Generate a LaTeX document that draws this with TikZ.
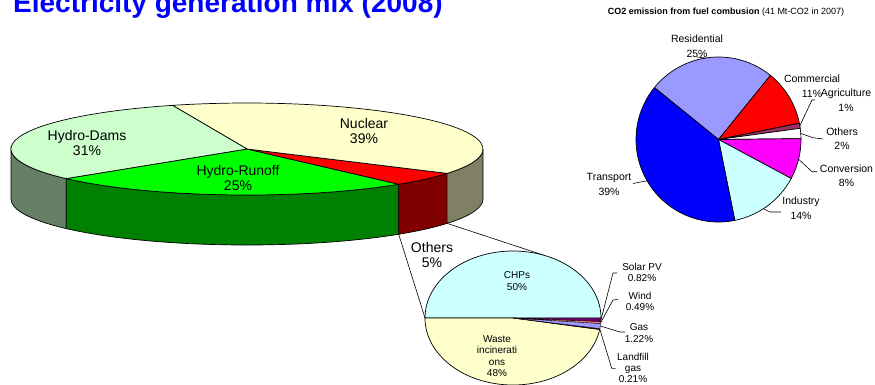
\documentclass[tikz,border=0pt]{standalone}
\usepackage{fontspec}
\setmainfont{Liberation Sans}
\usetikzlibrary{calc}

\definecolor{damtop}{RGB}{204,255,204}
\definecolor{damside}{RGB}{102,128,102}
\definecolor{runtop}{RGB}{0,255,0}
\definecolor{runside}{RGB}{0,128,0}
\definecolor{othtop}{RGB}{255,0,0}
\definecolor{othside}{RGB}{128,0,0}
\definecolor{nuctop}{RGB}{255,255,204}
\definecolor{nucside}{RGB}{128,128,102}
\definecolor{chpfill}{RGB}{204,255,255}
\definecolor{wastefill}{RGB}{255,255,204}
\definecolor{solarfill}{RGB}{102,0,102}
\definecolor{windfill}{RGB}{255,128,128}
\definecolor{gasfill}{RGB}{153,153,255}
\definecolor{landfill}{RGB}{128,0,0}
\definecolor{resfill}{RGB}{153,153,255}
\definecolor{comfill}{RGB}{255,0,0}
\definecolor{agrfill}{RGB}{153,51,102}
\definecolor{convfill}{RGB}{255,0,255}
\definecolor{indfill}{RGB}{204,255,255}
\definecolor{transfill}{RGB}{0,0,255}

\tikzset{
  slice/.style={draw=black, line width=0.7pt},
  thinslice/.style={draw=black, line width=0.35pt},
  lead/.style={draw=black, line width=0.6pt},
  biglabel/.style={align=center, inner sep=0pt, font=\fontsize{14}{15}\selectfont},
  co2label/.style={align=center, inner sep=0pt, font=\fontsize{10.5}{14.5}\selectfont},
  sublabel/.style={align=center, inner sep=0pt, font=\fontsize{10}{11.3}\selectfont}
}

\begin{document}
\begin{tikzpicture}[x=1pt,y=1pt]
  \useasboundingbox (0,0) rectangle (875,-384);

  % titles
  \node[anchor=base west, inner sep=0pt, text=transfill, font=\fontsize{28}{30}\selectfont\bfseries] (title) at (13,-12) {Electricity generation mix (2008)};
  \node[inner sep=0pt, font=\fontsize{9}{10}\selectfont] (co2title) at (726,-12) {\textbf{CO2 emission from fuel combusion} (41 Mt-CO2 in 2007)};

  % 3d pie, sides first
  \coordinate (mix) at (247,-149);
  \filldraw[slice, fill=damside] (mix) ++(180:236 and 46) arc[start angle=180, end angle=220, x radius=236, y radius=46] -- ++(0,-50) arc[start angle=220, end angle=180, x radius=236, y radius=46] -- cycle;
  \filldraw[slice, fill=runside] (mix) ++(220:236 and 46) arc[start angle=220, end angle=310, x radius=236, y radius=46] -- ++(0,-50) arc[start angle=310, end angle=220, x radius=236, y radius=46] -- cycle;
  \filldraw[slice, fill=othside] (mix) ++(310:236 and 46) arc[start angle=310, end angle=328, x radius=236, y radius=46] -- ++(0,-50) arc[start angle=328, end angle=310, x radius=236, y radius=46] -- cycle;
  \filldraw[slice, fill=nucside] (mix) ++(328:236 and 46) arc[start angle=328, end angle=360, x radius=236, y radius=46] -- ++(0,-50) arc[start angle=360, end angle=328, x radius=236, y radius=46] -- cycle;

  % 3d pie, top
  \filldraw[slice, fill=runtop] (mix) -- ++(220:236 and 46) arc[start angle=220, end angle=310, x radius=236, y radius=46] -- cycle;
  \filldraw[slice, fill=othtop] (mix) -- ++(310:236 and 46) arc[start angle=310, end angle=328, x radius=236, y radius=46] -- cycle;
  \filldraw[slice, fill=nuctop] (mix) -- ++(328:236 and 46) arc[start angle=328, end angle=468.4, x radius=236, y radius=46] -- cycle;
  \filldraw[slice, fill=damtop] (mix) -- ++(108.4:236 and 46) arc[start angle=108.4, end angle=220, x radius=236, y radius=46] -- cycle;

  \node[biglabel] (nuclear) at (364,-131) {Nuclear\\39\%};
  \node[biglabel] (dams) at (87,-143) {Hydro-Dams\\31\%};
  \node[biglabel] (runoff) at (238,-178) {Hydro-Runoff\\25\%};
  \node[biglabel] (others) at (432,-255) {Others\\5\%};

  % breakdown of others
  \coordinate (sub) at (513,-318);
  \path (mix) ++(310:236 and 46) ++(0,-50) coordinate (othL);
  \path (mix) ++(328:236 and 46) ++(0,-50) coordinate (othR);
  \path (sub) ++(180:88 and 67) coordinate (subL);
  \path (sub) ++(69:88 and 67) coordinate (subT);
  \draw[lead] (othL) -- (subL);
  \draw[lead] (othR) -- (subT);

  \filldraw[slice, fill=chpfill] (sub) -- ++(0:88 and 67) arc[start angle=0, end angle=180, x radius=88, y radius=67] -- cycle;
  \filldraw[slice, fill=wastefill] (sub) -- ++(180:88 and 67) arc[start angle=180, end angle=350.14, x radius=88, y radius=67] -- cycle;
  \filldraw[thinslice, fill=landfill] (sub) -- ++(350.14:88 and 67) arc[start angle=350.14, end angle=350.9, x radius=88, y radius=67] -- cycle;
  \filldraw[thinslice, fill=gasfill] (sub) -- ++(350.9:88 and 67) arc[start angle=350.9, end angle=355.3, x radius=88, y radius=67] -- cycle;
  \filldraw[thinslice, fill=windfill] (sub) -- ++(355.3:88 and 67) arc[start angle=355.3, end angle=357.05, x radius=88, y radius=67] -- cycle;
  \filldraw[thinslice, fill=solarfill] (sub) -- ++(357.05:88 and 67) arc[start angle=357.05, end angle=360, x radius=88, y radius=67] -- cycle;

  \node[sublabel] (chp) at (517,-281) {CHPs\\50\%};
  \node[sublabel] (waste) at (497,-356) {Waste\\incinerati\\ons\\48\%};
  \node[sublabel] (solar) at (642,-272.5) {Solar PV\\0.82\%};
  \node[sublabel] (wind) at (640,-301.5) {Wind\\0.49\%};
  \node[sublabel] (gas) at (639,-333) {Gas\\1.22\%};
  \node[sublabel] (landgas) at (633,-368) {Landfill\\gas\\0.21\%};

  \path (sub) ++(358.5:88 and 67) coordinate (solarE);
  \path (sub) ++(356.2:88 and 67) coordinate (windE);
  \path (sub) ++(353.1:88 and 67) coordinate (gasE);
  \path (sub) ++(350.5:88 and 67) coordinate (landE);
  \coordinate (solarK) at (613,-273);
  \coordinate (windK) at (613,-300);
  \coordinate (gasK) at (620,-332);
  \coordinate (landK) at (611.7,-368.3);
  \draw[lead] (solarE) -- (solarK) -- ++(4,0);
  \draw[lead] (windE) -- (windK) -- ++(5,0.5);
  \draw[lead] (gasE) -- (gasK) -- ++(5,0);
  \draw[lead] (landE) -- (landK) -- ++(4,0);

  % co2 pie
  \coordinate (co2) at (718.5,-139.5);
  \filldraw[slice, fill=resfill] (co2) -- ++(141:82.5) arc[start angle=141, end angle=51, radius=82.5] -- cycle;
  \filldraw[slice, fill=comfill] (co2) -- ++(51:82.5) arc[start angle=51, end angle=11.4, radius=82.5] -- cycle;
  \filldraw[slice, fill=agrfill] (co2) -- ++(11.4:82.5) arc[start angle=11.4, end angle=7.8, radius=82.5] -- cycle;
  \filldraw[slice, fill=white] (co2) -- ++(7.8:82.5) arc[start angle=7.8, end angle=0.6, radius=82.5] -- cycle;
  \filldraw[slice, fill=convfill] (co2) -- ++(0.6:82.5) arc[start angle=0.6, end angle=-28.2, radius=82.5] -- cycle;
  \filldraw[slice, fill=indfill] (co2) -- ++(-28.2:82.5) arc[start angle=-28.2, end angle=-78.6, radius=82.5] -- cycle;
  \filldraw[slice, fill=transfill] (co2) -- ++(-78.6:82.5) arc[start angle=-78.6, end angle=-219, radius=82.5] -- cycle;

  \node[co2label] (resid) at (697,-46) {Residential\\25\%};
  \node[co2label] (comm) at (812,-86) {Commercial\\11\%};
  \node[co2label] (agri) at (846,-100) {Agriculture\\1\%};
  \node[co2label] (otherco2) at (842,-138.5) {Others\\2\%};
  \node[co2label] (conv) at (846.5,-175.5) {Conversion\\8\%};
  \node[co2label] (indus) at (801,-208) {Industry\\14\%};
  \node[co2label] (trans) at (609,-184.5) {Transport\\39\%};

  \path (co2) ++(99:82.5) coordinate (residE);
  \path (co2) ++(9.6:82.5) coordinate (agriE);
  \path (co2) ++(4.2:82.5) coordinate (otherE);
  \path (co2) ++(-13.8:82.5) coordinate (convE);
  \path (co2) ++(-57:82.5) coordinate (indusE);
  \path (co2) ++(-150:82.5) coordinate (transE);
  \draw[lead] (697,-57) coordinate (residK) -- (residE);
  \draw[lead] (agriE) -- (812,-100) coordinate (agriK) -- ++(3,0);
  \draw[lead] (otherE) -- (813,-137.7) coordinate (otherK) -- (823,-139);
  \draw[lead] (convE) -- (812,-171.7) coordinate (convK) -- ++(5,0);
  \draw[lead] (indusE) -- (770,-212) coordinate (indusK) -- ++(11,0);
  \draw[lead] (transE) -- (633,-183.5) coordinate (transK);
\end{tikzpicture}
\end{document}
